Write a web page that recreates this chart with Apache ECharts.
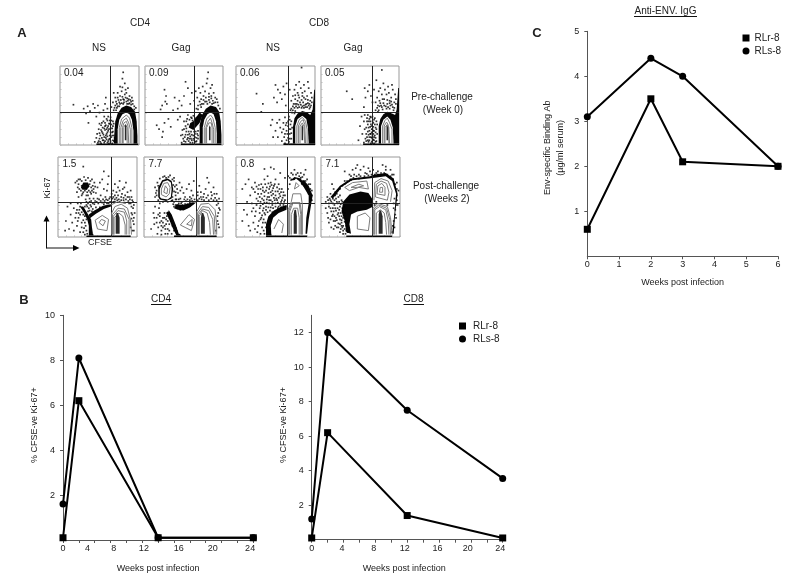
<!DOCTYPE html>
<html>
<head>
<meta charset="utf-8">
<title>Ki-67 CFSE and Anti-ENV IgG</title>
<script src="https://cdn.jsdelivr.net/npm/echarts@6/dist/echarts.min.js"></script>
<style>
  html, body { margin: 0; padding: 0; background: #fff; }
  #chart { width: 796px; height: 587px; }
</style>
</head>
<body>
<div id="chart"></div>
<script>
// line chart values
const cd4Weeks = [0, 2, 12, 24];
const cd4RLr = [0.1, 6.2, 0.1, 0.1];
const cd4RLs = [1.6, 8.1, 0.1, 0.1];
const cd8Weeks = [0, 2, 12, 24];
const cd8RLr = [0.1, 6.2, 1.4, 0.1];
const cd8RLs = [1.2, 12, 7.5, 3.55];
const envWeeks = [0, 2, 3, 6];
const envRLr = [0.6, 3.5, 2.1, 2.0];
const envRLs = [3.1, 4.4, 4.0, 2.0];

// tick labels, the figure has them shifted against the ticks so they sit at their own spots
const weekLabels = ['0', '4', '8', '12', '16', '20', '24'];
const cd4LabelAt = [0, 3.1, 6.4, 10.2, 14.6, 18.9, 23.6];
const cd8LabelAt = [0, 3.8, 7.8, 11.7, 15.8, 19.6, 23.7];
const envXLabels = [0, 1, 2, 3, 4, 5, 6];
const cd4YLabels = [2, 4, 6, 8, 10];
const cd8YLabels = [2, 4, 6, 8, 10, 12];
const envYLabels = [1, 2, 3, 4, 5];

// flow panels, everything in percent of the panel (x across, y up)
const gates = [[63, 41], [63, 41], [66, 42], [66, 42], [67, 44], [66, 45], [64.5, 42.5], [64.5, 42.5]];
const panelPct = ['0.04', '0.09', '0.06', '0.05', '1.5', '7.7', '0.8', '7.1'];

const p1Dots = [[17,51],[30,46],[33,40],[35,49],[38,43],[42,52],[44,47],[48,50],[50,41],[46,36],[36,28],[58,60],[57,52],[60,46],[55,44],
  [48,3],[50,8],[47,14],[52,2],[54,6],[51,12],[49,20],[53,17],[56,3],[58,9],[55,13],[57,19],[52,25],[55,30],[58,25],[60,3],[62,7],[59,14],[61,18],[63,12],[60,22],[62,27],[64,5],[65,10],[66,16],[64,21],[65,26],[63,31],[67,6],[66,21],[59,33],[56,36],[61,36],[64,35],[67,30],[68,12],[54,22],[50,27],[46,9],[44,4],[57,28],[62,2],[66,2],
  [49,5],[51,4],[53,9],[50,15],[52,19],[55,6],[57,5],[56,10],[54,15],[56,21],[58,12],[59,7],[60,11],[61,5],[60,16],[59,20],[61,24],[62,20],[63,8],[64,16],[66,12],[67,24],[68,5],[65,31],[68,27],[57,24],[53,28],[60,31],[63,27],[67,17],[69,9],
  [65,48],[68,44],[70,50],[67,54],[72,52],[74,57],[70,60],[68,66],[76,62],[73,66],[78,68],[80,58],[83,60],[86,56],[88,62],[84,66],[79,73],[82,78],[76,74],[90,55],[92,52],[94,49],[78,53],[75,49],[81,54],[85,52],[88,53],[72,47],[83,70],[86,72],[80,92],[79,84],[91,60],[96,47],
  [71,55],[73,60],[75,54],[77,57],[79,61],[81,57],[82,64],[85,59],[87,58],[89,57],[84,55],[80,52],[76,52],[73,49],[92,56],[87,52],[71,44],[69,47],[94,45],[90,51]];
const p1Blobs = [[[68,2],[69,18],[70,30],[73,40],[78,47],[84,50],[90,48],[95,42],[97,30],[98,12],[98,2]], [[46,0],[99,0],[99,2],[46,2]]];
const p1Holes = [[[73,2],[73,20],[75,32],[79,39],[84,41],[88,39],[91,32],[93,18],[93,2]]];
const p1Lines = [[[75,2],[75,22],[78,33],[84,38],[88,34],[91,22],[91,2]], [[77,2],[77,22],[80,31],[84,34],[87,28],[89,20],[89,2]], [[79,2],[79,22],[81,28],[84,30],[86,24],[87,2]], [[80,2],[80,22],[83,26],[85,22],[85,2]]];
const p1Cores = [[[82,6],[82,24],[83,26],[84,24],[84,6]]];

const p2Dots = [[25,70],[27,62],[26,55],[22,50],[28,52],[38,60],[44,56],[47,50],[50,62],[55,72],[52,80],[60,66],[58,52],[42,46],[36,44],[20,45],[30,33],[25,28],[18,20],[23,17],[15,25],[33,23],[42,32],[22,10],
  [47,3],[49,8],[52,13],[48,19],[52,24],[54,33],[56,5],[58,11],[56,17],[59,35],[60,6],[62,12],[63,17],[61,31],[65,4],[66,9],[67,14],[64,34],[52,4],[55,9],[50,30],[45,36],[55,38],[62,37],[67,35],[68,18],[53,17],[46,12],
  [50,5],[51,10],[54,7],[53,21],[55,13],[55,26],[57,8],[57,14],[58,3],[59,8],[59,17],[60,13],[61,3],[62,8],[63,6],[64,10],[64,14],[65,17],[66,5],[68,8],[68,12],[57,32],[53,30],[60,34],[64,31],[50,20],[48,13],
  [66,46],[68,50],[70,55],[67,60],[72,58],[75,62],[71,66],[69,72],[77,68],[74,74],[79,78],[82,65],[85,62],[88,66],[84,72],[80,84],[81,92],[75,52],[79,55],[82,57],[87,56],[90,54],[92,58],[94,50],[72,48],[86,76],[65,68],[63,56],
  [73,52],[77,55],[80,52],[83,54],[85,59],[88,53],[90,60],[78,60],[75,57],[71,51],[93,54],[86,52],[96,46],[68,45],[82,61]];
const p2Blobs = [[[70,2],[70,25],[73,38],[78,46],[84,50],[91,48],[95,42],[97,30],[98,12],[98,2]], [[56,22],[62,19],[70,28],[74,38],[70,41],[62,30],[58,28]], [[46,0],[98,0],[98,2],[46,2]]];
const p2Holes = [[[74,2],[74,22],[76,32],[80,39],[84,41],[88,39],[91,30],[92,15],[92,2]]];
const p2Lines = [[[76,2],[76,22],[79,33],[84,38],[87,34],[90,22],[90,2]], [[78,2],[78,22],[81,30],[84,34],[86,28],[88,20],[88,2]], [[79,2],[79,22],[82,28],[85,28],[86,22],[86,2]]];
const p2Cores = [[[82,6],[82,22],[83,25],[84,22],[84,6]]];

const p3Dots = [[26,65],[34,52],[32,42],[50,76],[53,70],[48,60],[52,54],[56,66],[58,58],[60,74],[62,64],[63,50],[64,78],[46,32],[44,25],[50,18],[52,28],[47,10],[53,10],[55,32],[56,22],[58,16],[60,28],[58,5],[61,10],[60,20],[62,35],[63,25],[64,6],[65,14],[66,30],[67,20],[68,8],[69,26],[67,36],[70,15],[62,2],
  [62,14],[64,18],[66,9],[67,4],[68,14],[68,32],[69,20],[70,8],[70,30],[64,28],[66,24],[71,22],
  [70,46],[73,52],[72,62],[75,58],[74,70],[78,66],[76,76],[80,80],[80,60],[82,72],[84,66],[86,76],[88,58],[87,68],[90,62],[92,72],[94,56],[91,80],[95,66],[96,60],[83,98],[70,56],[68,70],[77,52],[81,54],[85,54],[89,52],[92,50],[74,47],[78,47],[83,47],[88,48],[71,41],[69,44],[93,46],[95,50],[86,50],[75,43],
  [72,49],[75,52],[76,49],[79,51],[80,48],[82,51],[84,49],[86,47],[88,51],[90,48],[91,53],[93,52],[94,48],[72,44],[74,40],[78,56],[83,57],[86,60],[91,57],[84,62],[79,63],[75,63],[96,54]];
const p3Blobs = [[[72,2],[72,22],[74,34],[78,40],[84,43],[90,41],[94,38],[97,45],[99,70],[100,70],[100,2]], [[60,0],[100,0],[100,2],[60,2]]];
const p3Holes = [[[75,2],[75,24],[78,33],[84,37],[89,33],[91,22],[92,2]]];
const p3Lines = [[[77,2],[77,24],[80,32],[84,35],[88,30],[90,20],[90,2]], [[79,2],[79,24],[82,30],[85,32],[87,26],[88,2]], [[81,2],[81,24],[84,28],[86,24],[87,2]]];
const p3Cores = [[[83,6],[83,24],[84,26],[85,22],[85,6]]];

const p4Dots = [[33,68],[40,58],[55,48],[57,60],[60,68],[56,72],[62,76],[64,62],[66,54],[68,70],[71,82],[78,95],[52,36],[50,24],[53,14],[48,6],[55,30],[56,20],[57,8],[59,34],[60,26],[58,14],[61,4],[62,18],[63,30],[62,10],[64,2],[65,24],[64,14],[66,6],[66,36],[67,18],[67,28],[68,10],[69,34],[70,22],[70,4],[72,14],[56,38],[60,38],[63,36],[58,22],[61,30],[65,20],[68,2],[71,30],[55,3],
  [58,5],[59,10],[60,17],[60,6],[61,13],[61,22],[62,6],[63,14],[63,23],[64,10],[64,26],[65,4],[65,9],[65,16],[66,12],[66,20],[66,30],[67,7],[67,14],[67,23],[68,6],[68,18],[68,32],[69,12],[69,26],[70,9],[70,16],[71,5],[71,20],[72,26],[62,33],[64,35],[59,30],
  [70,44],[73,50],[72,60],[75,56],[74,68],[78,64],[76,72],[80,78],[81,58],[82,70],[84,64],[86,74],[88,56],[87,66],[90,60],[92,70],[94,54],[91,76],[95,64],[96,58],[70,54],[77,50],[81,50],[85,52],[89,50],[92,48],[74,44],[79,45],[84,46],[88,46],[93,44],
  [72,47],[75,49],[78,48],[80,53],[83,49],[86,48],[88,53],[91,51],[94,47],[76,53],[73,42],[85,57],[79,58],[90,55],[96,52]];
const p4Blobs = [[[74,2],[74,24],[76,33],[80,39],[85,42],[91,40],[95,38],[97,45],[99,72],[100,72],[100,2]], [[54,0],[100,0],[100,2],[54,2]]];
const p4Holes = [[[77,2],[77,24],[80,32],[85,36],[89,32],[92,22],[93,2]]];
const p4Lines = [[[79,2],[79,24],[82,31],[85,34],[88,28],[91,20],[91,2]], [[81,2],[81,24],[84,29],[86,26],[88,2]], [[82,2],[82,22],[85,26],[87,22],[87,2]]];
const p4Cores = [[[84,6],[84,24],[85,25],[86,22],[86,6]]];

const p5Dots = [[22,68],[25,62],[24,56],[28,72],[33,75],[38,74],[43,72],[46,68],[45,60],[48,55],[42,54],[36,52],[30,52],[26,50],[50,62],[53,68],[56,72],[58,60],[54,52],[50,48],[45,48],[40,48],[35,47],[60,50],[62,58],[63,66],[64,76],[58,82],[32,88],[30,64],[36,60],[42,62],[33,66],
  [12,38],[16,28],[10,20],[18,18],[14,10],[20,8],[24,14],[22,24],[26,30],[20,36],[28,38],[25,20],[30,12],[32,6],[28,6],[34,18],[16,42],[9,8],[33,34],[37,38],[41,40],[46,41],[51,42],[56,43],[62,42],[48,37],[53,37],[60,38],[44,35],
  [69,48],[72,52],[70,58],[74,56],[76,62],[80,50],[78,58],[82,60],[85,52],[84,62],[88,56],[90,50],[92,58],[86,68],[78,70],[72,66],[94,46],[92,42],[95,36],[94,28],[95,20],[92,12],[96,8],[75,46],[83,46],[89,45],[70,44],[78,44]];
const p5Extra = [[26,66],[27,60],[29,58],[30,70],[32,56],[34,58],[35,71],[37,56],[39,58],[40,66],[41,70],[43,58],[44,64],[45,56],[31,54],[38,52],[47,63],[41,56],[26,72],[24,70],
  [36,44],[38,42],[40,44],[42,45],[44,42],[47,45],[49,44],[52,47],[54,45],[57,47],[59,45],[61,47],[63,46],[65,48],[58,41],[64,42],[36,40],[39,36],[42,38],[34,38],[31,36],[29,42],[25,42],[27,34],[30,31],[32,28],[34,26],[28,28],[24,34],[36,22],[32,21],[35,14],[33,11],[30,18],[36,8],[34,3],[37,4],[26,24],[23,30],[40,33],[43,32],[38,32],
  [66,50],[68,54],[72,47],[74,49],[77,47],[80,46],[83,49],[86,47],[88,50],[91,47],[93,50],[95,44],[96,40],[93,38],[97,30],[96,24],[93,30],[96,16],[94,8],[93,23],[70,50],[76,52],[81,54],[66,44],[72,44],[84,43],[90,42]];
const p5Blobs = [[[29,62],[32,68],[38,68],[40,63],[36,59],[31,59]], [[28,38],[33,30],[37,22],[39,14],[39,2],[45,2],[43,12],[42,22],[37,30],[32,38]], [[40,23],[48,29],[58,35],[67,38],[67,41],[57,39],[46,33],[39,28]], [[36,0],[92,0],[92,2],[36,2]]];
const p5Holes = [[[44,4],[44,22],[50,28],[60,33],[67,37],[67,3]]];
const p5Lines = [[[47,21],[50,10],[62,8],[64,22],[56,27],[47,21]], [[52,18],[57,14],[60,20],[55,22],[52,18]], [[68,3],[68,30],[72,38],[80,41],[88,36],[92,20],[93,3]], [[69,3],[69,28],[76,36],[84,35],[90,22],[90,3]], [[70,3],[70,26],[76,33],[84,31],[87,20],[87,3]], [[71,3],[71,24],[77,30],[82,26],[85,15],[85,3]], [[67,40],[75,44],[86,42]]];
const p5Cores = [[[73,4],[73,24],[74,30],[76,30],[78,24],[78,4]]];

const p6Dots = [[14,62],[15,55],[17,68],[20,73],[14,50],[18,46],[26,76],[33,77],[36,72],[37,65],[38,57],[36,50],[35,45],[40,52],[42,60],[45,68],[48,62],[50,55],[54,60],[57,66],[60,58],[62,52],[58,50],[52,50],[46,48],[41,47],[63,70],[70,64],[72,56],[75,50],[78,60],[82,68],[85,56],[88,62],[92,54],[95,48],[80,74],[68,52],
  [12,30],[16,24],[13,16],[18,12],[22,8],[17,4],[26,14],[24,24],[20,30],[28,22],[30,10],[27,4],[32,16],[14,38],[9,10],[35,45],[38,38],[42,36],[46,34],[50,36],[54,37],[58,39],[62,42],[44,42],[48,44],[53,45],[58,46],[34,26],[19,36],[92,40],[94,30],[93,20],[95,12],[91,8],[96,34]];
const p6Extra = [[16,58],[18,64],[16,52],[38,70],[39,63],[40,56],[36,46],[30,44],[24,44],[20,42],[38,74],[28,74],[24,75],[31,75],[41,65],[43,55],[46,58],
  [38,44],[40,40],[43,40],[46,38],[49,40],[52,41],[55,41],[58,43],[61,45],[64,47],[47,42],[51,47],[55,47],[60,48],[37,41],[40,47],[44,47],
  [20,26],[22,20],[18,28],[24,18],[26,24],[20,18],[16,18],[24,12],[28,16],[22,14],[27,10],[30,20],[32,24],[29,26],[26,30],[34,20],[36,14],[38,8],[32,8],[35,4],[30,4],[33,28],[22,3],[13,24],
  [68,46],[70,48],[73,47],[76,46],[79,49],[82,46],[85,48],[88,46],[90,49],[92,46],[94,42],[95,36],[93,26],[94,16],[68,56],[72,50],[76,54],[81,52],[86,52],[89,54]];
const p6Blobs = [[[18,50],[20,47],[28,45],[35,48],[37,60],[35,70],[30,73],[23,71],[18,62]], [[31,34],[35,28],[39,18],[44,6],[47,2],[41,2],[36,12],[31,24],[28,30]], [[38,36],[43,34],[50,33],[58,37],[66,43],[60,43],[50,40],[41,41]], [[38,0],[92,0],[92,2],[38,2]]];
const p6Holes = [[[20,50],[22,48],[30,47],[34,50],[35,60],[34,68],[30,71],[24,69],[20,60]], [[22,36],[26,31],[31,32],[32,37],[29,41],[24,41]], [[44,4],[40,18],[52,30],[66,38],[66,3]]];
const p6Lines = [[[22,53],[28,50],[32,54],[33,62],[30,68],[25,67],[22,60],[22,53]], [[25,56],[29,54],[30,60],[27,64],[25,56]], [[46,15],[52,12],[60,8],[64,22],[57,28],[46,15]], [[54,16],[60,14],[61,22],[54,16]], [[67,3],[67,32],[72,41],[82,42],[90,34],[92,15],[92,3]], [[68,3],[68,30],[74,38],[82,37],[89,26],[90,3]], [[69,3],[69,28],[74,35],[82,33],[87,22],[88,3]], [[70,3],[70,26],[74,33],[80,30],[83,18],[84,3]]];
const p6Cores = [[[72,4],[72,24],[73,30],[75,30],[77,24],[77,4]]];

const p7Dots = [[8,60],[12,66],[16,72],[20,62],[24,68],[18,52],[24,56],[28,60],[32,66],[36,72],[40,76],[44,68],[48,64],[50,72],[54,66],[58,60],[60,52],[62,46],[46,58],[42,60],[36,56],[30,50],[26,48],[50,52],[55,54],[40,50],[35,46],[44,46],[52,46],[58,46],[36,85],[44,87],[48,85],[62,74],[56,80],
  [10,34],[14,28],[8,20],[16,14],[20,32],[24,26],[22,18],[18,8],[28,14],[27,6],[30,36],[32,24],[34,18],[36,30],[26,40],[20,42],[14,44],[38,38],[42,42],[46,40],[50,42],[54,38],[60,40],
  [66,60],[68,66],[66,76],[70,80],[74,84],[78,80],[82,80],[86,78],[90,72],[94,66],[96,58],[88,84],[84,70],[86,64],[92,54],[96,46],[70,72],[90,62]];
const p7Extra = [[22,60],[26,63],[29,65],[31,60],[34,62],[37,66],[39,62],[41,67],[43,63],[45,65],[47,61],[49,66],[52,62],[55,60],[57,56],[60,56],[62,52],[34,58],[38,58],[41,55],[44,56],[47,54],[50,57],[53,57],[56,51],[59,49],[61,44],[32,54],[36,51],[39,47],[42,50],[45,52],[48,49],[51,48],[54,49],[57,44],[33,48],[36,43],[39,43],[42,46],[46,44],[49,46],[53,43],[56,40],[31,44],[34,41],[28,54],[28,45],[31,39],[35,36],[38,34],[41,37],[44,37],[47,36],[50,38],[53,36],[57,37],[60,36],[63,38],[34,33],[37,28],[40,31],[43,33],[46,31],
  [33,27],[30,30],[35,22],[37,18],[33,12],[35,8],[38,12],[31,22],[25,32],[22,36],[36,4],[31,4],[24,10],[29,20],
  [88,70],[84,75],[80,76],[72,78],[68,74],[76,78],[92,66],[94,60],[89,64],[96,52],[94,48],[86,70],[82,74]];
const p7Blobs = [[[38,2],[38,16],[41,26],[48,33],[58,38],[64,40],[64,34],[54,30],[47,24],[44,14],[45,2]], [[86,71],[92,64],[97,52],[95,40],[92,22],[90,4],[88,4],[89,24],[92,42],[92,52],[86,62],[83,69]], [[38,0],[90,0],[90,2],[38,2]], [[68,70],[74,75],[82,73],[86,66],[84,64],[78,71],[72,71]]];
const p7Holes = [[[45,4],[45,16],[50,24],[64,33],[64,3]], [[71,58],[71,68],[76,73],[82,68],[82,58],[78,55],[74,55]]];
const p7Lines = [[[48,10],[54,22],[60,16],[58,5]], [[66,3],[66,34],[70,44],[72,54],[82,54],[84,40],[84,20],[84,3]], [[67,3],[67,33],[71,43],[81,43],[83,30],[83,3]], [[68,3],[68,32],[72,42],[80,42],[82,28],[82,3]], [[70,3],[70,28],[73,36],[78,36],[80,24],[80,3]], [[74,60],[76,68],[80,64],[74,60]]];
const p7Cores = [[[73,4],[73,28],[74,34],[76,34],[77,26],[77,4]]];

const p8Dots = [[6,44],[8,50],[10,42],[12,54],[16,60],[12,36],[8,30],[14,26],[10,18],[16,10],[20,44],[18,36],[22,30],[18,20],[24,22],[20,12],[26,14],[28,32],[24,38],[30,26],[28,8],[34,18],[15,48],[22,50],[26,46],[14,66],[32,14],[6,36],[16,32],[26,26],[34,6],
  [30,70],[36,78],[40,84],[44,86],[46,90],[50,84],[54,88],[56,80],[60,86],[62,82],[30,82],[42,78],[48,78],[66,84],[72,82],[78,90],[82,88],[88,84],[92,78],[96,68],[98,58],[96,46],[94,34],[95,24],[93,12],[90,6],[97,40],[68,40],[70,44],[84,40],[92,42]];
const p8Extra = [[9,46],[11,48],[13,44],[15,42],[17,46],[19,48],[21,42],[23,44],[25,41],[10,38],[13,32],[15,36],[17,40],[19,33],[21,36],[23,34],[25,30],[27,36],[15,28],[17,26],[19,24],[21,28],[23,26],[26,21],[28,24],[12,22],[16,20],[20,21],[22,17],[24,16],[26,18],[28,14],[30,19],[18,14],[22,12],[25,10],[27,12],[30,10],[32,8],[24,6],[28,4],[31,4],[12,46],[18,52],[20,54],[24,52],[16,52],[9,24],[13,12],[30,30],[32,22],[29,38],[27,44],
  [18,56],[21,58],[24,60],[27,64],[30,66],[33,70],[37,72],[41,74],[45,76],[50,76],[55,76],[60,77],[64,78],[68,78],[72,78],[76,80],[80,80],[84,78],[88,76],[91,72],[94,66],[96,60],[96,52],[93,48],[95,40],[92,36],[94,28],[92,20],[91,14],[38,76],[48,73],[58,79],[70,80],[82,84],[90,78]];
const p8Blobs = [[[12,50],[24,64],[38,73],[62,76],[68,78],[82,80],[92,73],[97,54],[94,30],[92,4],[90,4],[93,30],[95,54],[90,70],[82,76],[68,74],[60,73],[40,71],[26,62],[15,48]], [[28,44],[36,53],[50,57],[60,55],[66,46],[66,38],[58,34],[46,32],[38,28],[36,16],[38,4],[32,6],[30,20],[26,32]], [[32,0],[90,0],[90,2],[32,2]]];
const p8Holes = [[[25,62],[38,70],[62,72],[62,57],[50,59],[36,55],[27,56]], [[40,4],[40,26],[46,30],[64,33],[64,3]], [[66,44],[66,71],[76,75],[86,71],[92,60],[91,42],[80,40]]];
const p8Lines = [[[30,62],[40,68],[58,70],[60,60],[48,62],[36,58],[30,62]], [[38,62],[48,66],[54,64],[46,62],[38,62]], [[46,10],[46,26],[56,30],[62,24],[60,8],[46,10]], [[67,46],[68,68],[76,73],[85,70],[90,58],[88,44]], [[69,50],[70,66],[76,70],[83,67],[86,56],[84,46],[69,50]], [[71,54],[72,64],[77,67],[81,62],[81,52],[71,54]], [[74,56],[75,62],[78,62],[78,56],[74,56]], [[66,3],[66,36],[72,42],[84,38],[88,24],[90,3]], [[67,3],[67,35],[73,40],[83,36],[87,22],[88,3]], [[68,3],[68,34],[74,38],[82,34],[85,20],[86,3]], [[70,3],[70,30],[75,34],[80,30],[82,18],[83,3]]];
const p8Cores = [[[73,4],[73,28],[74,33],[76,33],[78,26],[78,4]]];

const panelDots = [p1Dots, p2Dots, p3Dots, p4Dots, p5Dots.concat(p5Extra), p6Dots.concat(p6Extra), p7Dots.concat(p7Extra), p8Dots.concat(p8Extra)];
const panelBlobs = [p1Blobs, p2Blobs, p3Blobs, p4Blobs, p5Blobs, p6Blobs, p7Blobs, p8Blobs];
const panelHoles = [p1Holes, p2Holes, p3Holes, p4Holes, p5Holes, p6Holes, p7Holes, p8Holes];
const panelLines = [p1Lines, p2Lines, p3Lines, p4Lines, p5Lines, p6Lines, p7Lines, p8Lines];
const panelCores = [p1Cores, p2Cores, p3Cores, p4Cores, p5Cores, p6Cores, p7Cores, p8Cores];

const FONT = '"Liberation Sans", Arial, sans-serif';
const INK = '#222';
const AXIS = '#555';

const chart = echarts.init(document.getElementById('chart'));

const grids = [];
const xAxes = [];
const yAxes = [];
const series = [];
const graphics = [];

function txt(text, x, y, opts) {
  graphics.push({
    type: 'text',
    x: x,
    y: y,
    rotation: (opts && opts.rotation) || 0,
    silent: true,
    style: {
      text: text,
      fill: INK,
      font: ((opts && opts.font) || '10px') + ' ' + FONT,
      align: (opts && opts.align) || 'center',
      verticalAlign: 'middle'
    }
  });
}

function rule(x1, y1, x2, y2, width) {
  graphics.push({
    type: 'line',
    silent: true,
    shape: { x1: x1, y1: y1, x2: x2, y2: y2 },
    style: { stroke: '#111', lineWidth: width || 1 }
  });
}

// one plain line chart with two series
function lineChart(rect, opt) {
  const idx = grids.length;
  grids.push(rect);
  xAxes.push({
    gridIndex: idx,
    type: 'value',
    min: opt.xMin,
    max: opt.xMax,
    interval: opt.xTick,
    name: 'Weeks post infection',
    nameLocation: 'middle',
    nameGap: opt.xNameGap,
    nameTextStyle: { fontFamily: FONT, fontSize: 9, color: INK, padding: opt.xNamePad || 0 },
    splitLine: { show: false },
    axisLine: { onZero: false, lineStyle: { color: AXIS, width: 1 } },
    axisTick: { length: 3, lineStyle: { color: AXIS } },
    axisLabel: {
      customValues: opt.xLabelAt,
      formatter: (v) => opt.xLabelText ? opt.xLabelText[opt.xLabelAt.indexOf(v)] : String(v),
      fontFamily: FONT,
      fontSize: 9,
      color: INK,
      margin: 4,
      hideOverlap: false,
      showMinLabel: true,
      showMaxLabel: true
    }
  });
  yAxes.push({
    gridIndex: idx,
    type: 'value',
    min: 0,
    max: opt.yMax,
    name: opt.yName,
    nameLocation: 'middle',
    nameGap: opt.yNameGap,
    nameTextStyle: { fontFamily: FONT, fontSize: 9, color: INK, lineHeight: 13, padding: opt.yNamePad || 0 },
    splitLine: { show: false },
    axisLine: { onZero: false, lineStyle: { color: AXIS, width: 1 } },
    axisTick: { length: 3, customValues: opt.yLabels, lineStyle: { color: AXIS } },
    axisLabel: {
      customValues: opt.yLabels,
      fontFamily: FONT,
      fontSize: 9,
      color: INK,
      margin: 8,
      showMaxLabel: true
    }
  });
  const pairs = (ys) => opt.weeks.map((w, i) => [w, ys[i]]);
  [['RLr-8', 'rect', opt.rlr], ['RLs-8', 'circle', opt.rls]].forEach(([name, symbol, ys]) => {
    series.push({
      name: name,
      type: 'line',
      xAxisIndex: idx,
      yAxisIndex: idx,
      data: pairs(ys),
      symbol: symbol,
      symbolSize: 7,
      clip: false,
      silent: true,
      z: 5,
      lineStyle: { color: '#000', width: 2 },
      itemStyle: { color: '#000' }
    });
  });
}

// filled shapes or contour lines of a flow panel
function shapeSeries(idx, polys, kind, style, z) {
  series.push({
    type: 'custom',
    xAxisIndex: idx,
    yAxisIndex: idx,
    silent: true,
    z: z,
    data: polys.map((p) => p[0]),
    renderItem: (params, api) => ({
      type: kind,
      shape: { points: polys[params.dataIndex].map((pt) => api.coord(pt)) },
      style: style
    })
  });
}

function flowPanel(i, rect) {
  const idx = grids.length;
  grids.push(Object.assign({ show: true, borderColor: '#999', borderWidth: 1, backgroundColor: '#fff' }, rect));
  [xAxes, yAxes].forEach((list) => list.push({
    gridIndex: idx,
    type: 'value',
    min: 0,
    max: 100,
    interval: 10,
    axisLine: { show: false },
    axisLabel: { show: false },
    splitLine: { show: false },
    axisTick: { inside: true, length: 1.5, lineStyle: { color: '#bbb' } }
  }));
  shapeSeries(idx, panelBlobs[i], 'polygon', { fill: '#050505' }, 2);
  shapeSeries(idx, panelHoles[i], 'polygon', { fill: '#fff' }, 3);
  series.push({
    type: 'scatter',
    xAxisIndex: idx,
    yAxisIndex: idx,
    silent: true,
    z: 4,
    symbol: 'rect',
    symbolSize: 1.7,
    itemStyle: { color: '#000' },
    data: panelDots[i]
  });
  shapeSeries(idx, panelLines[i], 'polyline', { fill: null, stroke: '#7c7c7c', lineWidth: 1 }, 5);
  shapeSeries(idx, panelCores[i], 'polygon', { fill: '#2a2a2a' }, 6);
  series.push({
    type: 'scatter',
    xAxisIndex: idx,
    yAxisIndex: idx,
    silent: true,
    z: 7,
    data: [],
    markLine: {
      silent: true,
      symbol: 'none',
      label: { show: false },
      lineStyle: { color: '#222', width: 1, type: 'solid' },
      data: [{ xAxis: gates[i][0] }, { yAxis: gates[i][1] }]
    }
  });
}

lineChart({ left: 63, top: 315.3, width: 190.3, height: 224.7 }, {
  weeks: cd4Weeks, rlr: cd4RLr, rls: cd4RLs,
  xMin: 0, xMax: 24, xTick: 2, xLabelAt: cd4LabelAt, xLabelText: weekLabels, xNameGap: 24,
  yMax: 10, yLabels: cd4YLabels, yName: '% CFSE-ve Ki-67+', yNameGap: 22, yNamePad: [0, 0, 0, 5]
});
lineChart({ left: 311.7, top: 315.3, width: 191, height: 224.4 }, {
  weeks: cd8Weeks, rlr: cd8RLr, rls: cd8RLs,
  xMin: 0, xMax: 24, xTick: 2, xLabelAt: cd8LabelAt, xLabelText: weekLabels, xNameGap: 24, xNamePad: [0, 6, 0, 0],
  yMax: 13, yLabels: cd8YLabels, yName: '% CFSE-ve Ki-67+', yNameGap: 21, yNamePad: [0, 0, 0, 5]
});
lineChart({ left: 587.3, top: 31.3, width: 190.7, height: 225 }, {
  weeks: envWeeks, rlr: envRLr, rls: envRLs,
  xMin: 0, xMax: 6, xTick: 1, xLabelAt: envXLabels, xNameGap: 22,
  yMax: 5, yLabels: envYLabels, yName: 'Env-specific Binding Ab\n(µg/ml serum)', yNameGap: 20, yNamePad: [0, 8, 0, 0]
});

const panelRects = [
  { left: 60, top: 66, width: 79, height: 79 },
  { left: 145, top: 66, width: 78, height: 79 },
  { left: 236, top: 66, width: 79, height: 79 },
  { left: 321, top: 66, width: 78, height: 79 },
  { left: 58, top: 157, width: 79, height: 80 },
  { left: 144, top: 157, width: 79, height: 80 },
  { left: 236, top: 157, width: 79, height: 80 },
  { left: 321, top: 157, width: 79, height: 80 }
];
panelRects.forEach((r, i) => {
  flowPanel(i, r);
  txt(panelPct[i], r.left + (i < 4 ? 4 : 4.5), r.top + 7, { align: 'left' });
});

// panel A headings
txt('A', 22, 33, { font: 'bold 13px' });
txt('B', 24, 300, { font: 'bold 13px' });
txt('C', 537, 33, { font: 'bold 13px' });
txt('CD4', 140, 23);
txt('CD8', 319, 23);
txt('NS', 99, 48);
txt('Gag', 181, 48);
txt('NS', 273, 48);
txt('Gag', 353, 48);
txt('Pre-challenge', 442, 97);
txt('(Week 0)', 443, 110);
txt('Post-challenge', 446, 186);
txt('(Weeks 2)', 447, 199);
txt('CFSE', 100, 243, { font: '9px' });
txt('Ki-67', 48, 188, { font: '9px', rotation: Math.PI / 2 });

// underlined sub titles
txt('CD4', 161, 299);
rule(151, 304.5, 171.5, 304.5);
txt('CD8', 413.5, 299);
rule(403.5, 304.5, 424, 304.5);
txt('Anti-ENV. IgG', 665.5, 11);
rule(634, 16.5, 697, 16.5);

// little axes arrows next to the post challenge row
rule(46.5, 220, 46.5, 248.5);
rule(46.5, 248, 74, 248);
graphics.push({ type: 'polygon', silent: true, shape: { points: [[46.5, 215.5], [43.5, 221.5], [49.5, 221.5]] }, style: { fill: '#000' } });
graphics.push({ type: 'polygon', silent: true, shape: { points: [[79.5, 248], [73, 245], [73, 251]] }, style: { fill: '#000' } });

const legendItems = [{ name: 'RLr-8', icon: 'rect' }, { name: 'RLs-8', icon: 'circle' }];
const legendBase = {
  orient: 'vertical',
  selectedMode: false,
  itemWidth: 7,
  itemHeight: 7,
  itemGap: 3.1,
  padding: 0,
  data: legendItems
};
const legendText = { fontFamily: FONT, fontSize: 10, color: INK };

chart.setOption({
  animation: false,
  backgroundColor: '#fff',
  legend: [
    Object.assign({ left: 459, top: 321, textStyle: Object.assign({ padding: [0, 0, 0, 2] }, legendText) }, legendBase),
    Object.assign({ left: 742.5, top: 33, textStyle: legendText }, legendBase)
  ],
  grid: grids,
  xAxis: xAxes,
  yAxis: yAxes,
  series: series,
  graphic: graphics
});
</script>
</body>
</html>
